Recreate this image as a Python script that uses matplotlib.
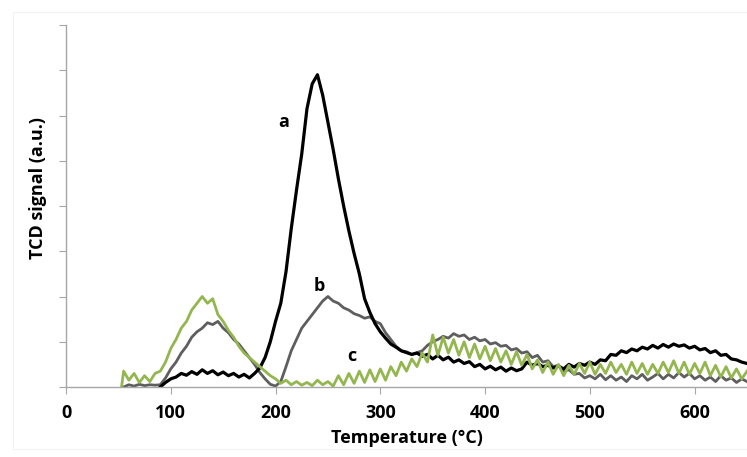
import matplotlib
matplotlib.use('Agg')
import matplotlib.pyplot as plt
from matplotlib.patches import Rectangle

# temperature grids (°C) and TCD signal (a.u.)
temp_a = list(range(90, 651, 5))
signal_a = [
    0.00, 0.10, 0.18, 0.22, 0.30, 0.26, 0.34, 0.28, 0.38, 0.30,   # 90-135
    0.36, 0.27, 0.33, 0.25, 0.30, 0.22, 0.28, 0.20, 0.30, 0.42,   # 140-185
    0.65, 1.00, 1.45, 1.85, 2.55, 3.50, 4.35, 5.15, 6.15, 6.70,   # 190-235
    6.90, 6.45, 5.85, 5.25, 4.60, 4.00, 3.45, 2.95, 2.50, 1.95,   # 240-285
    1.65, 1.40, 1.22, 1.08, 0.95, 0.88, 0.80, 0.76, 0.72, 0.75,   # 290-335
    0.68, 0.72, 0.62, 0.70, 0.60, 0.66, 0.55, 0.60, 0.52, 0.56,   # 340-385
    0.45, 0.50, 0.40, 0.46, 0.38, 0.44, 0.35, 0.42, 0.36, 0.40,   # 390-435
    0.55, 0.48, 0.52, 0.45, 0.48, 0.42, 0.46, 0.40, 0.50, 0.44,   # 440-485
    0.52, 0.48, 0.55, 0.50, 0.60, 0.58, 0.72, 0.70, 0.80, 0.76,   # 490-535
    0.84, 0.80, 0.88, 0.84, 0.92, 0.86, 0.94, 0.88, 0.95, 0.90,   # 540-585
    0.93, 0.86, 0.90, 0.82, 0.85, 0.76, 0.80, 0.70, 0.72, 0.62,   # 590-635
    0.60, 0.55, 0.52,                                             # 640-650
]

temp_b = list(range(55, 651, 5))
signal_b = [
    0.00, 0.05, 0.02, 0.06, 0.03, 0.05, 0.04,                     # 55-85
    0.05, 0.20, 0.40, 0.55, 0.75, 0.90, 1.10, 1.22, 1.30, 1.42,   # 90-135
    1.38, 1.45, 1.30, 1.20, 1.05, 0.95, 0.80, 0.65, 0.50, 0.32,   # 140-185
    0.18, 0.06, 0.02, 0.12, 0.45, 0.80, 1.05, 1.30, 1.45, 1.60,   # 190-235
    1.75, 1.90, 2.00, 1.90, 1.85, 1.75, 1.70, 1.62, 1.58, 1.52,   # 240-285
    1.55, 1.45, 1.40, 1.20, 1.05, 0.90, 0.80, 0.78, 0.72, 0.76,   # 290-335
    0.80, 0.92, 1.00, 1.05, 1.12, 1.08, 1.18, 1.12, 1.15, 1.05,   # 340-385
    1.10, 1.02, 1.05, 0.95, 0.98, 0.90, 0.92, 0.82, 0.85, 0.75,   # 390-435
    0.78, 0.65, 0.70, 0.55, 0.58, 0.45, 0.48, 0.35, 0.38, 0.28,   # 440-485
    0.30, 0.20, 0.25, 0.18, 0.28, 0.16, 0.25, 0.15, 0.22, 0.12,   # 490-535
    0.25, 0.18, 0.28, 0.15, 0.22, 0.30, 0.18, 0.28, 0.20, 0.32,   # 540-585
    0.22, 0.30, 0.18, 0.25, 0.15, 0.22, 0.12, 0.25, 0.15, 0.20,   # 590-635
    0.10, 0.18, 0.12,                                             # 640-650
]

temp_c = [53] + list(range(55, 651, 5))
signal_c = [
    0.00,
    0.35, 0.15, 0.30, 0.10, 0.25, 0.12, 0.30,                     # 55-85
    0.35, 0.55, 0.85, 1.05, 1.30, 1.45, 1.70, 1.85, 2.00, 1.85,   # 90-135
    1.95, 1.60, 1.45, 1.25, 1.10, 0.90, 0.75, 0.65, 0.55, 0.45,   # 140-185
    0.35, 0.25, 0.18, 0.08, 0.15, 0.05, 0.12, 0.04, 0.10, 0.03,   # 190-235
    0.15, 0.05, 0.12, 0.02, 0.25, 0.05, 0.30, 0.08, 0.35, 0.10,   # 240-285
    0.38, 0.12, 0.40, 0.15, 0.45, 0.25, 0.55, 0.35, 0.62, 0.45,   # 290-335
    0.75, 0.55, 1.15, 0.70, 1.10, 0.75, 1.05, 0.70, 1.00, 0.65,   # 340-385
    0.95, 0.62, 0.90, 0.58, 0.85, 0.55, 0.80, 0.50, 0.78, 0.48,   # 390-435
    0.72, 0.40, 0.60, 0.32, 0.55, 0.28, 0.50, 0.25, 0.48, 0.28,   # 440-485
    0.52, 0.30, 0.55, 0.28, 0.50, 0.30, 0.55, 0.32, 0.50, 0.28,   # 490-535
    0.55, 0.30, 0.52, 0.28, 0.50, 0.30, 0.55, 0.32, 0.58, 0.30,   # 540-585
    0.55, 0.28, 0.52, 0.30, 0.55, 0.25, 0.48, 0.22, 0.45, 0.20,   # 590-635
    0.40, 0.18, 0.35,                                             # 640-650
]

curve_labels = ['a', 'b', 'c']
label_pos = [(208, 5.85), (242, 2.23), (273, 0.68)]
x_ticks = [0, 100, 200, 300, 400, 500, 600]

plt.rcParams['font.family'] = ['Open Sans', 'DejaVu Sans']

fig = plt.figure(figsize=(7.47, 4.57), dpi=100)
fig.patches.append(Rectangle((13 / 747, 8 / 457), 1.0, 1 - 20 / 457,
                             transform=fig.transFigure, fill=False,
                             edgecolor='#f3f3f3', linewidth=0.8))
ax = fig.add_axes([66 / 747, 70 / 457, 1 - 66 / 747, 362 / 457])

ax.plot(temp_b, signal_b, color='#5e5e5e', linewidth=2.0)
ax.plot(temp_a, signal_a, color='black', linewidth=2.3)
ax.plot(temp_c, signal_c, color='#93b64f', linewidth=2.0)

for text, (x, y) in zip(curve_labels, label_pos):
    ax.text(x, y, text, fontsize=13, fontweight='bold', ha='center', va='center')

ax.set_xlim(0, 650)
ax.set_ylim(0, 8)
ax.set_xticks(x_ticks)
ax.set_yticks(range(9))
ax.set_yticklabels([])
for lab in ax.get_xticklabels():
    lab.set_fontweight('bold')
ax.tick_params(axis='x', labelsize=13, length=5, color='#a6a6a6', pad=7)
ax.tick_params(axis='y', length=5, color='#a6a6a6')

for side in ['top', 'right']:
    ax.spines[side].set_visible(False)
for side in ['left', 'bottom']:
    ax.spines[side].set_color('#a6a6a6')
    ax.spines[side].set_linewidth(1.0)

ax.set_xlabel('Temperature (°C)', fontsize=13, fontweight='bold', labelpad=5)
ax.set_ylabel('TCD signal (a.u.)', fontsize=13, fontweight='bold')
ax.yaxis.set_label_coords(-19 / 681, 0.55)

fig.savefig('out.png', dpi=100)
